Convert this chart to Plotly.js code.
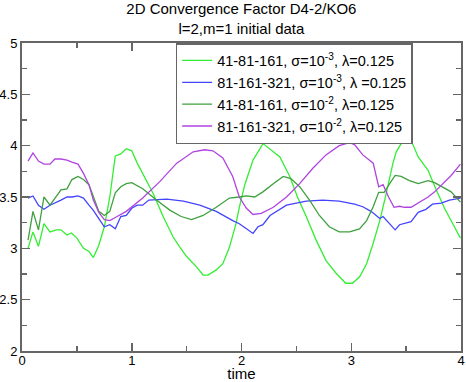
<!DOCTYPE html>
<html>
<head>
<meta charset="utf-8">
<script src="https://cdn.plot.ly/plotly-3.0.1.min.js"></script>
<style>
  html, body { margin: 0; padding: 0; background: #fff; }
  #chart { width: 466px; height: 382px; }
</style>
</head>
<body>
<div id="chart"></div>
<script>
// 41-81-161, sigma=1e-3
const tLight = [0.055, 0.10, 0.15, 0.20, 0.255, 0.315, 0.355, 0.41, 0.45, 0.50, 0.56, 0.61, 0.65, 0.70, 0.75, 0.80, 0.85, 0.90, 0.95, 1.00, 1.05, 1.10, 1.195, 1.286, 1.377, 1.44, 1.50, 1.59, 1.65, 1.695, 1.77, 1.83, 1.89, 1.95, 1.98, 2.03, 2.105, 2.196, 2.27, 2.35, 2.44, 2.51, 2.59, 2.68, 2.77, 2.86, 2.95, 3.01, 3.075, 3.14, 3.20, 3.26, 3.32, 3.38, 3.41, 3.455, 3.50, 3.55, 3.61, 3.70, 3.77, 3.85, 3.925, 3.995];
const yLight = [3.00, 3.16, 3.02, 3.24, 3.16, 3.18, 3.18, 3.13, 3.15, 3.10, 3.00, 2.97, 2.91, 3.03, 3.21, 3.50, 3.90, 3.92, 3.97, 3.95, 3.83, 3.73, 3.535, 3.31, 3.11, 3.01, 2.92, 2.82, 2.74, 2.74, 2.79, 2.85, 3.01, 3.24, 3.40, 3.62, 3.86, 4.02, 3.96, 3.89, 3.70, 3.50, 3.31, 3.08, 2.88, 2.76, 2.66, 2.66, 2.72, 2.85, 3.05, 3.27, 3.54, 3.83, 3.94, 4.02, 4.04, 4.04, 3.89, 3.76, 3.58, 3.39, 3.24, 3.10];

// 81-161-321, sigma=1e-3
const tBlue = [0.055, 0.10, 0.15, 0.20, 0.255, 0.30, 0.355, 0.41, 0.455, 0.51, 0.56, 0.61, 0.65, 0.70, 0.75, 0.80, 0.85, 0.90, 0.95, 1.00, 1.05, 1.10, 1.155, 1.32, 1.47, 1.62, 1.77, 1.92, 1.98, 2.045, 2.105, 2.15, 2.195, 2.26, 2.33, 2.41, 2.50, 2.59, 2.74, 2.89, 3.03, 3.105, 3.18, 3.26, 3.29, 3.35, 3.40, 3.44, 3.485, 3.545, 3.61, 3.68, 3.74, 3.82, 3.895, 3.995];
const yBlue = [3.49, 3.51, 3.42, 3.38, 3.42, 3.44, 3.47, 3.50, 3.50, 3.51, 3.49, 3.42, 3.37, 3.29, 3.21, 3.23, 3.19, 3.31, 3.32, 3.39, 3.42, 3.42, 3.47, 3.48, 3.46, 3.42, 3.36, 3.27, 3.24, 3.19, 3.145, 3.21, 3.23, 3.32, 3.37, 3.42, 3.44, 3.46, 3.47, 3.46, 3.43, 3.405, 3.36, 3.29, 3.31, 3.24, 3.18, 3.23, 3.24, 3.26, 3.35, 3.38, 3.43, 3.44, 3.47, 3.49];

// 41-81-161, sigma=1e-2
const tDark = [0.055, 0.10, 0.15, 0.20, 0.255, 0.30, 0.355, 0.41, 0.455, 0.51, 0.56, 0.61, 0.65, 0.70, 0.75, 0.80, 0.85, 0.90, 0.95, 1.00, 1.10, 1.225, 1.35, 1.45, 1.545, 1.65, 1.77, 1.89, 1.98, 2.045, 2.12, 2.195, 2.29, 2.38, 2.45, 2.53, 2.62, 2.71, 2.80, 2.89, 2.985, 3.075, 3.14, 3.20, 3.25, 3.30, 3.35, 3.40, 3.455, 3.53, 3.61, 3.70, 3.76, 3.83, 3.91, 3.995];
const yDark = [3.08, 3.36, 3.18, 3.50, 3.42, 3.49, 3.57, 3.58, 3.67, 3.70, 3.67, 3.62, 3.50, 3.36, 3.32, 3.36, 3.54, 3.60, 3.63, 3.64, 3.58, 3.47, 3.37, 3.31, 3.28, 3.32, 3.40, 3.49, 3.50, 3.51, 3.50, 3.55, 3.63, 3.70, 3.68, 3.60, 3.47, 3.32, 3.21, 3.16, 3.16, 3.19, 3.27, 3.405, 3.545, 3.545, 3.63, 3.71, 3.70, 3.66, 3.63, 3.66, 3.64, 3.60, 3.55, 3.45];

// 81-161-321, sigma=1e-2
const tPurple = [0.055, 0.10, 0.15, 0.20, 0.255, 0.30, 0.355, 0.41, 0.455, 0.51, 0.56, 0.61, 0.65, 0.70, 0.75, 0.80, 0.85, 0.95, 1.10, 1.255, 1.41, 1.56, 1.665, 1.74, 1.83, 1.92, 1.98, 2.045, 2.105, 2.18, 2.29, 2.41, 2.53, 2.65, 2.77, 2.89, 2.985, 3.03, 3.105, 3.20, 3.25, 3.29, 3.34, 3.39, 3.44, 3.485, 3.545, 3.61, 3.70, 3.76, 3.83, 3.91, 3.995];
const yPurple = [3.85, 3.93, 3.85, 3.82, 3.82, 3.87, 3.87, 3.86, 3.84, 3.82, 3.73, 3.62, 3.47, 3.35, 3.28, 3.27, 3.30, 3.36, 3.49, 3.65, 3.83, 3.94, 3.96, 3.95, 3.88, 3.70, 3.50, 3.39, 3.33, 3.34, 3.40, 3.50, 3.63, 3.78, 3.91, 4.00, 4.03, 4.01, 3.91, 3.83, 3.60, 3.62, 3.50, 3.40, 3.41, 3.40, 3.40, 3.44, 3.50, 3.55, 3.62, 3.71, 3.82];

const names = [
  "41-81-161, σ=10<sup>-3</sup>, λ=0.125",
  "81-161-321, σ=10<sup>-3</sup>, λ =0.125",
  "41-81-161, σ=10<sup>-2</sup>, λ=0.125",
  "81-161-321, σ=10<sup>-2</sup>, λ=0.125"
];
const colors = ["#33ee33", "#4444ff", "#3ea03e", "#b044e0"];

const serie = (t, y, i) => ({
  x: t, y: y, name: names[i], type: "scatter", mode: "lines",
  line: { color: colors[i], width: 1.3 }
});

const datos = [
  serie(tLight, yLight, 0),
  serie(tBlue, yBlue, 1),
  serie(tDark, yDark, 2),
  serie(tPurple, yPurple, 3)
];

const ejeComun = {
  showgrid: false, zeroline: false,
  showline: true, linecolor: "#666", linewidth: 2, mirror: "allticks",
  ticks: "inside", ticklen: 8, tickwidth: 1.5, tickcolor: "#666",
  tickfont: { size: 13, color: "#000" }
};

const diseño = {
  width: 466, height: 382,
  margin: { l: 22, r: 5, t: 43, b: 31 },
  paper_bgcolor: "#fff", plot_bgcolor: "#fff",
  font: { family: "Liberation Sans, Arial, sans-serif", color: "#000" },
  showlegend: true,
  title: {
    text: "2D Convergence Factor D4-2/KO6<br>l=2,m=1 initial data",
    font: { size: 15 }, x: 0.518, xanchor: "center",
    yref: "container", y: 0.963, yanchor: "middle"
  },
  xaxis: Object.assign({}, ejeComun, {
    range: [0, 4], tickvals: [0, 1, 2, 3, 4], ticktext: ["0", "1", "2", "3", "4"],
    ticklabelstandoff: -4,
    minor: { ticks: "inside", ticklen: 5, tickwidth: 1.5, tickcolor: "#666", dtick: 0.5, tick0: 0 },
    title: { text: "time", font: { size: 15 }, standoff: 0 }
  }),
  yaxis: Object.assign({}, ejeComun, {
    range: [2, 5], tickvals: [2, 2.5, 3, 3.5, 4, 4.5, 5], ticktext: ["2", "2.5", "3", "3.5", "4", "4.5", "5"],
    minor: { ticks: "inside", ticklen: 5, tickwidth: 1.5, tickcolor: "#666", dtick: 0.25, tick0: 2 }
  }),
  legend: {
    x: 0.35, y: 1, xanchor: "left", yanchor: "top",
    bgcolor: "#fff", bordercolor: "#666", borderwidth: 1.5,
    font: { size: 14.5 }, itemwidth: 30, tracegroupgap: 0
  }
};

Plotly.newPlot("chart", datos, diseño, { staticPlot: true });
</script>
</body>
</html>
